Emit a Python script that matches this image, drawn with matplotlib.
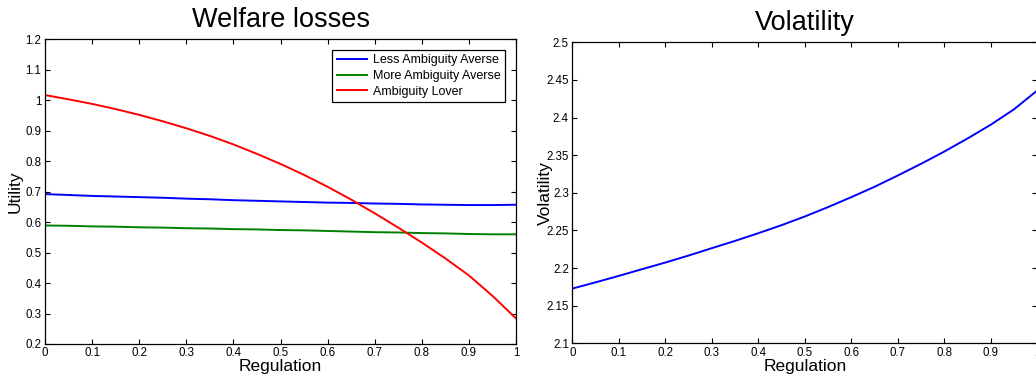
import numpy as np
import matplotlib
matplotlib.use("Agg")
import matplotlib.pyplot as plt

plt.rcParams['font.family'] = ['Liberation Sans', 'DejaVu Sans']

# regulation grid
regulation = np.round(np.arange(0, 1.0001, 0.05), 2)

# welfare losses (utility)
less_averse = [0.692, 0.689, 0.686, 0.684, 0.682, 0.680, 0.677, 0.675, 0.672, 0.670, 0.668,
               0.666, 0.664, 0.663, 0.661, 0.660, 0.658, 0.657, 0.656, 0.656, 0.657]
more_averse = [0.589, 0.588, 0.586, 0.585, 0.583, 0.582, 0.580, 0.579, 0.577, 0.576, 0.574,
               0.573, 0.571, 0.569, 0.567, 0.566, 0.564, 0.563, 0.561, 0.560, 0.560]
lover = [1.017, 1.003, 0.988, 0.971, 0.952, 0.931, 0.908, 0.883, 0.855, 0.824, 0.791,
         0.755, 0.716, 0.674, 0.629, 0.582, 0.533, 0.481, 0.425, 0.358, 0.284]

# volatility
volatility = [2.1727, 2.1810, 2.1896, 2.1985, 2.2073, 2.2166, 2.2264, 2.2361, 2.2463, 2.2570,
              2.2685, 2.2810, 2.2942, 2.3080, 2.3230, 2.3385, 2.3548, 2.3722, 2.3905, 2.4110,
              2.4360]

xticks = np.round(np.arange(0, 1.0001, 0.1), 1)
xticklabels = ['0', '0.1', '0.2', '0.3', '0.4', '0.5', '0.6', '0.7', '0.8', '0.9', '1']


def matlab_style(ax):
    ax.tick_params(direction='in', top=True, right=True, length=3.5, width=0.8,
                   labelsize=8.3, pad=2.5)
    for s in ax.spines.values():
        s.set_linewidth(0.9)
    ax.set_xticks(xticks)
    ax.set_xticklabels(xticklabels)
    ax.set_xlim(0, 1)


fig = plt.figure(figsize=(10.36, 3.80), dpi=100)

# left panel
ax1 = fig.add_axes([45 / 1036, 36 / 380, 471 / 1036, 304.7 / 380])
ax1.plot(regulation, less_averse, color=(0, 0, 1), lw=1.4, label='Less Ambiguity Averse')
ax1.plot(regulation, more_averse, color=(0, 0.5, 0), lw=1.4, label='More Ambiguity Averse')
ax1.plot(regulation, lover, color=(1, 0, 0), lw=1.4, label='Ambiguity Lover')
matlab_style(ax1)
ax1.set_ylim(0.2, 1.2)
ax1.set_yticks(np.round(np.arange(0.2, 1.2001, 0.1), 1))
ax1.set_yticklabels(['0.2', '0.3', '0.4', '0.5', '0.6', '0.7', '0.8', '0.9', '1', '1.1', '1.2'])
ax1.set_title('Welfare losses', fontsize=19.5, pad=9)
ax1.set_xlabel('Regulation', fontsize=12.5, labelpad=0)
ax1.set_ylabel('Utility', fontsize=12.5, labelpad=2)
leg = ax1.legend(loc='upper right', bbox_to_anchor=(0.977, 0.965), borderaxespad=0,
                 fontsize=9, fancybox=False, framealpha=1, edgecolor='black',
                 handlelength=2.4, handletextpad=0.5, labelspacing=0.3,
                 borderpad=0.35)
leg.get_frame().set_linewidth(0.9)

# right panel
ax2 = fig.add_axes([572.3 / 1036, 36.7 / 380, 465 / 1036, 301 / 380])
ax2.plot(regulation, volatility, color=(0, 0, 1), lw=1.4)
matlab_style(ax2)
ax2.set_ylim(2.1, 2.5)
ax2.set_yticks(np.round(np.arange(2.1, 2.5001, 0.05), 2))
ax2.set_yticklabels(['2.1', '2.15', '2.2', '2.25', '2.3', '2.35', '2.4', '2.45', '2.5'])
ax2.set_title('Volatility', fontsize=19.5, pad=9)
ax2.set_xlabel('Regulation', fontsize=12.5, labelpad=0)
ax2.set_ylabel('Volatility', fontsize=12.5, labelpad=-5)

fig.savefig('out.png', dpi=100)
